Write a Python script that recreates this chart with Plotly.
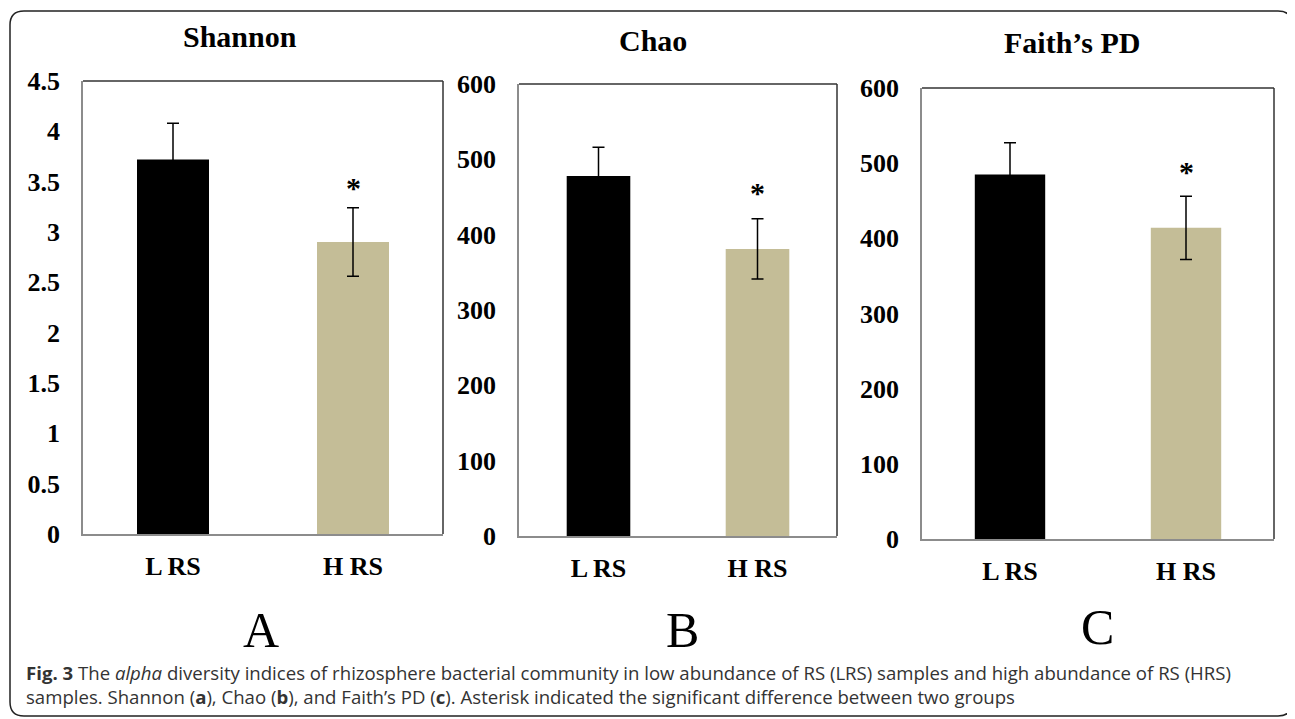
import plotly.graph_objects as go

# figure size: page body has an 8px margin, so the figure is drawn at (8, 8)
W, H = 1287, 711
OFF = 8

categories = ["L RS", "H RS"]
panel_titles = ["Shannon", "Chao", "Faith\u2019s PD"]
panel_letters = ["A", "B", "C"]
shannon_vals = [3.72, 2.90]
shannon_errs = [0.36, 0.34]
chao_vals = [478, 381]
chao_errs = [38, 40]
faith_vals = [485, 414]
faith_errs = [42, 42]
yranges = [[0, 4.5], [0, 600], [0, 600]]
ytick_vals = [[0, 0.5, 1, 1.5, 2, 2.5, 3, 3.5, 4, 4.5],
              [0, 100, 200, 300, 400, 500, 600],
              [0, 100, 200, 300, 400, 500, 600]]
ytick_text = [["0", "0.5", "1", "1.5", "2", "2.5", "3", "3.5", "4", "4.5"],
              ["0", "100", "200", "300", "400", "500", "600"],
              ["0", "100", "200", "300", "400", "500", "600"]]
bar_colors = ["#000000", "#c4bd97"]
caption_line1 = ("<b>Fig. 3</b> The <i>alpha</i> diversity indices of rhizosphere bacterial community "
                 "in low abundance of RS (LRS) samples and high abundance of RS (HRS)")
caption_line2 = ("samples. Shannon (<b>a</b>), Chao (<b>b</b>), and Faith\u2019s PD (<b>c</b>). "
                 "Asterisk indicated the significant difference between two groups")

values = [shannon_vals, chao_vals, faith_vals]
errors = [shannon_errs, chao_errs, faith_errs]

# page-pixel layout of each panel: (left, top, right, bottom)
boxes = [(83, 81, 443, 534), (519, 84, 837, 536), (922, 88, 1274, 539)]
title_pos = [(240, 37), (653, 40), (1072, 43)]
letter_pos = [(261, 630), (682, 630), (1097, 627)]
star_shift = [2, 8, 6]


def px(x):
    return (x - OFF) / W


def py(y):
    return 1 - (y - OFF) / H


fig = go.Figure()
serif = "Liberation Serif, Times New Roman, serif"

for i in range(3):
    ax = "" if i == 0 else str(i + 1)
    l, t, r, b = boxes[i]
    fig.add_trace(go.Bar(
        x=categories, y=values[i],
        marker=dict(color=bar_colors, line=dict(width=0)),
        width=0.4,
        error_y=dict(type="data", array=errors[i], visible=True,
                     color="#000000", thickness=1.5, width=6),
        xaxis="x" + ax, yaxis="y" + ax, showlegend=False,
    ))
    fig.update_layout(**{
        "xaxis" + ax: dict(domain=[px(l), px(r)], anchor="y" + ax, automargin=False,
                           range=[-0.5, 1.5], showline=True, linecolor="#8c8c8c",
                           linewidth=1.5, ticks="", showgrid=False,
                           tickfont=dict(family=serif, size=26, color="#000", weight="bold"),
                           ticklabelstandoff=8, fixedrange=True),
        "yaxis" + ax: dict(domain=[py(b), py(t)], anchor="x" + ax, automargin=False,
                           range=yranges[i], showline=True, linecolor="#8c8c8c",
                           linewidth=1.5, ticks="", showgrid=False, zeroline=False,
                           tickvals=ytick_vals[i], ticktext=ytick_text[i],
                           tickfont=dict(family=serif, size=26, color="#000", weight="bold"),
                           ticklabelstandoff=16, fixedrange=True),
    })
    # top and right frame lines
    fig.add_shape(type="line", xref="paper", yref="paper",
                  x0=px(l), x1=px(r), y0=py(t), y1=py(t),
                  line=dict(color="#333", width=1.5))
    fig.add_shape(type="line", xref="paper", yref="paper",
                  x0=px(r), x1=px(r), y0=py(t), y1=py(b),
                  line=dict(color="#333", width=1.5))
    # asterisk above HRS error bar
    fig.add_annotation(x=categories[1], y=values[i][1] + errors[i][1],
                       xref="x" + ax, yref="y" + ax, text="<b>*</b>", showarrow=False,
                       yanchor="bottom", yshift=star_shift[i],
                       font=dict(family=serif, size=30, color="#000"))
    # panel title
    fig.add_annotation(x=px(title_pos[i][0]), y=py(title_pos[i][1]), xref="paper", yref="paper",
                       text="<b>" + panel_titles[i] + "</b>", showarrow=False,
                       xanchor="center", yanchor="middle",
                       font=dict(family=serif, size=30, color="#000"))
    # panel letter
    fig.add_annotation(x=px(letter_pos[i][0]), y=py(letter_pos[i][1]), xref="paper", yref="paper",
                       text=panel_letters[i], showarrow=False,
                       xanchor="center", yanchor="middle",
                       font=dict(family=serif, size=50, color="#000"))

# caption
cap_font = dict(family="Open Sans, Noto Sans, sans-serif", size=18.6, color="#333")
fig.add_annotation(x=px(24), y=py(672), xref="paper", yref="paper", text=caption_line1,
                   showarrow=False, xanchor="left", yanchor="middle", font=cap_font)
fig.add_annotation(x=px(24), y=py(696), xref="paper", yref="paper", text=caption_line2,
                   showarrow=False, xanchor="left", yanchor="middle", font=cap_font)

# outer rounded border
x0, y0, x1, y1, rr = 10, 11, 1292, 716, 14
path = (f"M {px(x0 + rr)} {py(y0)} L {px(x1 - rr)} {py(y0)} "
        f"Q {px(x1)} {py(y0)} {px(x1)} {py(y0 + rr)} "
        f"L {px(x1)} {py(y1 - rr)} Q {px(x1)} {py(y1)} {px(x1 - rr)} {py(y1)} "
        f"L {px(x0 + rr)} {py(y1)} Q {px(x0)} {py(y1)} {px(x0)} {py(y1 - rr)} "
        f"L {px(x0)} {py(y0 + rr)} Q {px(x0)} {py(y0)} {px(x0 + rr)} {py(y0)} Z")
fig.add_shape(type="path", path=path, xref="paper", yref="paper",
              line=dict(color="#222", width=1.5))

fig.update_layout(width=W, height=H, margin=dict(l=0, r=0, t=0, b=0),
                  paper_bgcolor="white", plot_bgcolor="white", bargap=0.6)

fig.write_html("out.html")
